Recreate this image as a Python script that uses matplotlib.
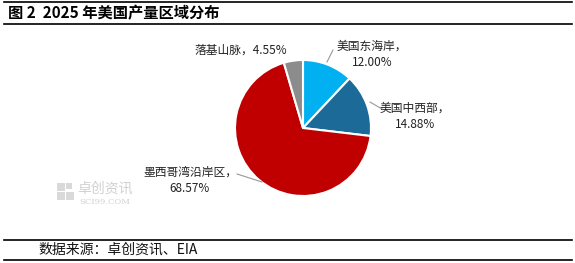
import matplotlib.pyplot as plt
from matplotlib.lines import Line2D
from matplotlib.patches import Rectangle

plt.rcParams['font.family'] = ['Noto Sans CJK SC', 'DejaVu Sans']

regions = ['美国东海岸', '美国中西部', '墨西哥湾沿岸区', '落基山脉']
shares = [12.00, 14.88, 68.57, 4.55]
colors = ['#00B0F0', '#1B6A98', '#C00000', '#8C8C8C']

W, H = 575, 263
fig = plt.figure(figsize=(W / 100, H / 100), dpi=100)

# pie centre ~ (303,128) px, radius ~68 px
cx, cy, r = 303, 128, 68
ax = fig.add_axes([(cx - r) / W, (H - cy - r) / H, 2 * r / W, 2 * r / H])
ax.pie(shares, colors=colors, startangle=90, counterclock=False,
       radius=1, wedgeprops=dict(edgecolor='white', linewidth=1.5))
ax.set_xlim(-1, 1)
ax.set_ylim(-1, 1)
ax.set_aspect('equal')
ax.axis('off')


def px(x, y):
    return ((x - cx) / r, (cy - y) / r)


# label text positions (px) and leader-line targets (px)
label_pos = [(372, 54), (415, 116), (190, 180), (241, 50)]
line_from = [(333, 50), (382, 109), (237, 174), None]
line_to = [(327, 62), (370, 102), (262, 182), None]

for name, val, pos, a, b in zip(regions, shares, label_pos, line_from, line_to):
    if name == '落基山脉':
        txt = f'{name}，{val:.2f}%'
    else:
        txt = f'{name}，\n{val:.2f}%'
    ax.text(*px(*pos), txt, ha='center', va='center', fontsize=8.5,
            color='#222222', linespacing=1.35, clip_on=False)
    if a is not None:
        ax.add_line(Line2D([px(*a)[0], px(*b)[0]], [px(*a)[1], px(*b)[1]],
                           color='#999999', lw=0.8, clip_on=False))

# title, source and rules
fig.text(8 / W, 1 - 13 / H, '图 2  2025 年美国产量区域分布', fontsize=11,
         fontweight='bold', va='center', ha='left')
fig.text(38 / W, 1 - 250 / H, '数据来源：卓创资讯、EIA', fontsize=10,
         va='center', ha='left', color='#111111')
for yy in [2, 24, 240, 260]:
    fig.add_artist(Line2D([4 / W, 572 / W], [1 - yy / H, 1 - yy / H],
                          color='black', lw=1.2))

# watermark
for (x0, y0, w0, h0) in [(57, 183, 8, 8), (66, 183, 6, 6), (57, 192, 8, 8),
                         (66, 192, 8, 8)]:
    fig.add_artist(Rectangle((x0 / W, 1 - (y0 + h0) / H), w0 / W, h0 / H,
                             transform=fig.transFigure, color='#D9D9D9',
                             lw=0))
fig.text(77 / W, 1 - 189 / H, '卓创资讯', fontsize=10, color='#D0D0D0',
         va='center')
fig.text(79 / W, 1 - 202 / H, 'SCI99.COM', fontsize=6, color='#D0D0D0',
         va='center', family='DejaVu Serif')

fig.savefig('out.png', dpi=100)
